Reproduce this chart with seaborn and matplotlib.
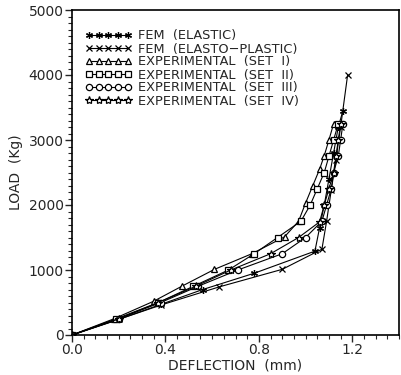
import matplotlib
matplotlib.use("Agg")
import matplotlib.pyplot as plt
import seaborn as sns
import numpy as np
from matplotlib.ticker import MultipleLocator

# ---- data (deflection in mm, load in Kg) ----
fem_el_x = [0.0, 0.20, 0.38, 0.56, 0.78, 1.04, 1.06, 1.08, 1.10, 1.12, 1.14, 1.16]
fem_el_y = [0, 240, 470, 700, 950, 1290, 1650, 2000, 2400, 2800, 3200, 3450]

fem_ep_x = [0.0, 0.20, 0.38, 0.63, 0.90, 1.07, 1.09, 1.11, 1.13, 1.15, 1.18]
fem_ep_y = [0, 240, 460, 740, 1010, 1320, 1750, 2230, 2700, 3200, 4000]

set1_x = [0.0, 0.18, 0.35, 0.47, 0.61, 0.77, 0.91, 0.97, 1.00, 1.03, 1.06, 1.08, 1.10, 1.12]
set1_y = [0, 250, 520, 750, 1010, 1250, 1510, 1750, 2030, 2290, 2550, 2760, 3000, 3250]

set2_x = [0.0, 0.19, 0.37, 0.52, 0.67, 0.78, 0.88, 0.98, 1.02, 1.05, 1.08, 1.10, 1.12, 1.14]
set2_y = [0, 250, 500, 750, 1000, 1250, 1500, 1750, 2000, 2250, 2500, 2750, 3000, 3250]

set3_x = [0.0, 0.20, 0.38, 0.54, 0.71, 0.90, 1.00, 1.07, 1.09, 1.11, 1.12, 1.14, 1.15, 1.16]
set3_y = [0, 250, 500, 750, 1000, 1250, 1500, 1750, 2000, 2250, 2500, 2750, 3000, 3250]

set4_x = [0.0, 0.20, 0.37, 0.53, 0.68, 0.85, 0.97, 1.06, 1.08, 1.10, 1.12, 1.13, 1.14, 1.15]
set4_y = [0, 250, 500, 750, 1000, 1250, 1500, 1740, 2000, 2250, 2500, 2750, 3000, 3250]

labels = ["FEM  (ELASTIC)", "FEM  (ELASTO\u2212PLASTIC)",
          "EXPERIMENTAL  (SET  I)", "EXPERIMENTAL  (SET  II)",
          "EXPERIMENTAL  (SET  III)", "EXPERIMENTAL  (SET  IV)"]

sns.set_style("ticks")
plt.rcParams['font.family'] = ['DejaVu Sans']

fig = plt.figure(figsize=(4.01, 3.75), dpi=100)
ax = fig.add_axes([72/401, 40/375, 327/401, 325/375])

series = [
    (fem_el_x, fem_el_y, (6, 2, 0), 5),
    (fem_ep_x, fem_ep_y, "x", 4.5),
    (set1_x, set1_y, "^", 5),
    (set2_x, set2_y, "s", 4),
    (set3_x, set3_y, "o", 4.5),
    (set4_x, set4_y, "*", 6),
]

for (xs, ys, mk, ms), lab in zip(series, labels):
    sns.lineplot(x=xs, y=ys, ax=ax, sort=False, estimator=None, color="black",
                 linewidth=0.8, marker=mk, markersize=ms, markerfacecolor="white",
                 markeredgecolor="black", markeredgewidth=0.9, label=lab)

ax.set_xlim(0, 1.4)
ax.set_ylim(0, 5000)
ax.xaxis.set_major_locator(MultipleLocator(0.4))
ax.xaxis.set_minor_locator(MultipleLocator(0.05))
ax.yaxis.set_major_locator(MultipleLocator(1000))
ax.yaxis.set_minor_locator(MultipleLocator(100))
ax.set_xticks([0.0, 0.4, 0.8, 1.2])
ax.set_xticklabels(["0.0", "0.4", "0.8", "1.2"])
ax.tick_params(which="major", direction="out", length=5, width=1, labelsize=10, pad=1)
ax.tick_params(which="minor", direction="out", length=3, width=0.8)
for s in ax.spines.values():
    s.set_visible(True)
    s.set_linewidth(1.2)
    s.set_color("black")

ax.set_xlabel("DEFLECTION  (mm)", fontsize=10, labelpad=1)
ax.set_ylabel("LOAD  (Kg)", fontsize=10, labelpad=4)

ax.legend(loc="upper left", bbox_to_anchor=(0.04, 0.94), frameon=False,
          numpoints=5, handlelength=3.6, handletextpad=0.5, labelspacing=0.0,
          prop={"size": 9.3}, borderaxespad=0, borderpad=0)

fig.savefig("out.png", dpi=100)
